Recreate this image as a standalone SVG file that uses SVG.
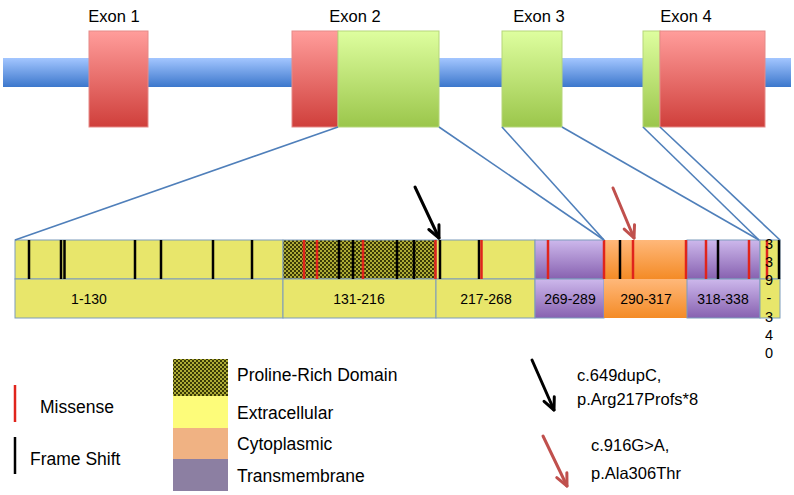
<svg xmlns="http://www.w3.org/2000/svg" width="794" height="495" viewBox="0 0 794 495">
<style>
text{font-family:"Liberation Sans",Arial,sans-serif;fill:#000}
.ex{font-size:16.5px}
.seg{font-size:14px;text-anchor:middle}
.lg{font-size:17.5px}
.mt{font-size:16.5px}
.vt{font-size:14.5px;text-anchor:middle}
.cell{stroke:#7d9cbc;stroke-width:1}
.ms{stroke:#e0241c;stroke-width:2.5}
.fs{stroke:#000;stroke-width:2.5}
.proj{stroke:#4f7fba;stroke-width:1.6;fill:none}
.exbox{stroke-width:1}
</style>
<defs>
<linearGradient id="gBlue" x1="0" y1="0" x2="0" y2="1"><stop offset="0" stop-color="#a3c6ff"/><stop offset="1" stop-color="#3c77cc"/></linearGradient>
<linearGradient id="gRed" x1="0" y1="0" x2="0" y2="1"><stop offset="0" stop-color="#ff9d9b"/><stop offset="1" stop-color="#cf3f3b"/></linearGradient>
<linearGradient id="gGreen" x1="0" y1="0" x2="0" y2="1"><stop offset="0" stop-color="#defe9f"/><stop offset="1" stop-color="#9bc64b"/></linearGradient>
<linearGradient id="gPurple" x1="0" y1="0" x2="0" y2="1"><stop offset="0" stop-color="#cdb8ec"/><stop offset="1" stop-color="#8761b0"/></linearGradient>
<linearGradient id="gOrange" x1="0" y1="0" x2="0" y2="1"><stop offset="0" stop-color="#ffb87a"/><stop offset="1" stop-color="#f48b26"/></linearGradient>
<pattern id="pPro" width="4" height="4" patternUnits="userSpaceOnUse">
<rect width="4" height="4" fill="#aeac36"/>
<rect width="2" height="2" fill="#3a3a06"/>
<rect x="2" y="2" width="2" height="2" fill="#3a3a06"/>
</pattern>
<marker id="headK" markerUnits="userSpaceOnUse" markerWidth="30" markerHeight="30" refX="0" refY="0" viewBox="-15 -15 30 30" orient="auto" overflow="visible">
<path d="M-12,-5.6 L0,0 L-12,5.6" fill="none" stroke="#000" stroke-width="3" stroke-linecap="round" stroke-linejoin="round"/>
</marker>
<marker id="headR" markerUnits="userSpaceOnUse" markerWidth="30" markerHeight="30" refX="0" refY="0" viewBox="-15 -15 30 30" orient="auto" overflow="visible">
<path d="M-12,-5.6 L0,0 L-12,5.6" fill="none" stroke="#c0504d" stroke-width="3" stroke-linecap="round" stroke-linejoin="round"/>
</marker>
</defs>
<rect width="794" height="495" fill="#fff"/>

<!-- gene -->
<g id="backbone"><rect x="3" y="58" width="788" height="29" fill="url(#gBlue)"/></g>
<g id="exon1">
<rect class="exbox" x="89" y="31" width="59" height="96" fill="url(#gRed)" stroke="#e58a88"/>
<text class="ex" x="114" y="22" text-anchor="middle">Exon 1</text>
</g>
<g id="exon2">
<rect class="exbox" x="292" y="31" width="46" height="96" fill="url(#gRed)" stroke="#e58a88"/>
<rect class="exbox" x="338" y="31" width="101" height="96" fill="url(#gGreen)" stroke="#b5d67a"/>
<text class="ex" x="355" y="22" text-anchor="middle">Exon 2</text>
</g>
<g id="exon3">
<rect class="exbox" x="502" y="31" width="60" height="96" fill="url(#gGreen)" stroke="#b5d67a"/>
<text class="ex" x="539" y="22" text-anchor="middle">Exon 3</text>
</g>
<g id="exon4">
<rect class="exbox" x="643" y="31" width="17" height="96" fill="url(#gGreen)" stroke="#b5d67a"/>
<rect class="exbox" x="660" y="31" width="105" height="96" fill="url(#gRed)" stroke="#e58a88"/>
<text class="ex" x="686" y="22" text-anchor="middle">Exon 4</text>
</g>

<!-- protein -->
<g id="seg1-130">
<rect class="cell" x="15" y="240" width="268" height="39" fill="#e8e66b"/>
<rect class="cell" x="15" y="279" width="268" height="39" fill="#e8e66b"/>
<text class="seg" x="89" y="304">1-130</text>
</g>
<g id="seg131-216">
<rect class="cell" x="283" y="240" width="153" height="39" fill="url(#pPro)"/>
<rect class="cell" x="283" y="279" width="153" height="39" fill="#e8e66b"/>
<text class="seg" x="359" y="304">131-216</text>
</g>
<g id="seg217-268">
<rect class="cell" x="436" y="240" width="99" height="39" fill="#e8e66b"/>
<rect class="cell" x="436" y="279" width="99" height="39" fill="#e8e66b"/>
<text class="seg" x="486" y="304">217-268</text>
</g>
<g id="seg269-289">
<rect class="cell" x="535" y="240" width="69" height="39" fill="url(#gPurple)"/>
<rect class="cell" x="535" y="279" width="69" height="39" fill="url(#gPurple)"/>
<text class="seg" x="570" y="304">269-289</text>
</g>
<g id="seg290-317">
<rect x="604" y="240" width="83" height="39" fill="url(#gOrange)"/>
<rect x="604" y="279" width="83" height="39" fill="url(#gOrange)"/>
<text class="seg" x="646" y="304">290-317</text>
</g>
<g id="seg318-338">
<rect class="cell" x="687" y="240" width="73" height="39" fill="url(#gPurple)"/>
<rect class="cell" x="687" y="279" width="73" height="39" fill="url(#gPurple)"/>
<text class="seg" x="723" y="304">318-338</text>
</g>
<g id="seg339-340">
<rect class="cell" x="760" y="240" width="20" height="39" fill="#e8e66b"/>
<rect class="cell" x="760" y="279" width="20" height="39" fill="#e8e66b"/>
</g>

<!-- mutations -->
<g id="mutations">
<line class="fs" x1="29" y1="240" x2="29" y2="279"/>
<line class="fs" x1="61" y1="240" x2="61" y2="279"/>
<line class="fs" x1="64.5" y1="240" x2="64.5" y2="279"/>
<line class="fs" x1="135" y1="240" x2="135" y2="279"/>
<line class="fs" x1="161" y1="240" x2="161" y2="279"/>
<line class="fs" x1="213" y1="240" x2="213" y2="279"/>
<line class="fs" x1="252" y1="240" x2="252" y2="279"/>
<line class="ms" x1="304" y1="240" x2="304" y2="279"/>
<line class="ms" x1="317" y1="240" x2="317" y2="279"/>
<line class="fs" x1="339" y1="240" x2="339" y2="279"/>
<line class="fs" x1="353" y1="240" x2="353" y2="279"/>
<line class="ms" x1="363" y1="240" x2="363" y2="279"/>
<line class="fs" x1="397" y1="240" x2="397" y2="279"/>
<line class="fs" x1="414" y1="240" x2="414" y2="279"/>
<line class="ms" x1="435.5" y1="240" x2="435.5" y2="279"/>
<line class="fs" x1="440" y1="240" x2="440" y2="279"/>
<line class="fs" x1="479" y1="240" x2="479" y2="279"/>
<line class="ms" x1="481.5" y1="240" x2="481.5" y2="279"/>
<line class="ms" x1="548" y1="240" x2="548" y2="279"/>
<line class="ms" x1="604" y1="240" x2="604" y2="279"/>
<line class="fs" x1="620" y1="240" x2="620" y2="279"/>
<line class="ms" x1="633" y1="240" x2="633" y2="279"/>
<line class="ms" x1="686" y1="240" x2="686" y2="279"/>
<line class="ms" x1="706" y1="240" x2="706" y2="279"/>
<line class="fs" x1="718" y1="240" x2="718" y2="279"/>
<line class="ms" x1="749" y1="240" x2="749" y2="279"/>
<line class="ms" x1="767" y1="240" x2="767" y2="279"/>
<line class="fs" x1="779" y1="240" x2="779" y2="279"/>
</g>
<text class="vt" x="769"><tspan x="769" y="249">3</tspan><tspan x="769" y="267">3</tspan><tspan x="769" y="285">9</tspan><tspan x="769" y="303">-</tspan><tspan x="769" y="322">3</tspan><tspan x="769" y="340">4</tspan><tspan x="769" y="358">0</tspan></text>

<!-- connectors -->
<g id="connectors">
<line class="proj" x1="338" y1="127" x2="15" y2="240"/>
<line class="proj" x1="439" y1="127" x2="604" y2="240"/>
<line class="proj" x1="502" y1="127" x2="604" y2="240"/>
<line class="proj" x1="562" y1="127" x2="759" y2="240"/>
<line class="proj" x1="643" y1="127" x2="759" y2="240"/>
<line class="proj" x1="660" y1="127" x2="780" y2="240"/>
<line x1="415" y1="187" x2="439" y2="238" stroke="#000" stroke-width="3" stroke-linecap="round" marker-end="url(#headK)"/>
<line x1="613" y1="188" x2="634" y2="238" stroke="#c0504d" stroke-width="3" stroke-linecap="round" marker-end="url(#headR)"/>
</g>

<!-- legend -->
<g id="legend-missense">
<line class="ms" x1="15" y1="385" x2="15" y2="422"/>
<text class="lg" x="40" y="413">Missense</text>
</g>
<g id="legend-frameshift">
<line class="fs" x1="15" y1="437" x2="15" y2="474"/>
<text class="lg" x="30" y="465">Frame Shift</text>
</g>
<g id="legend-proline">
<rect x="173" y="359" width="55" height="37" fill="url(#pPro)"/>
<text class="lg" x="237" y="381">Proline-Rich Domain</text>
</g>
<g id="legend-extracellular">
<rect x="173" y="396" width="55" height="32" fill="#fdfc7a"/>
<text class="lg" x="237" y="419">Extracellular</text>
</g>
<g id="legend-cytoplasmic">
<rect x="173" y="428" width="55" height="31" fill="#f0b283"/>
<text class="lg" x="237" y="450">Cytoplasmic</text>
</g>
<g id="legend-transmembrane">
<rect x="173" y="459" width="55" height="32" fill="#8c7fa2"/>
<text class="lg" x="237" y="482">Transmembrane</text>
</g>
<g id="legend-mut1">
<line x1="532" y1="360" x2="554" y2="410" stroke="#000" stroke-width="3" stroke-linecap="round" marker-end="url(#headK)"/>
<text class="mt" x="577" y="381">c.649dupC,</text>
<text class="mt" x="577" y="405">p.Arg217Profs*8</text>
</g>
<g id="legend-mut2">
<line x1="543" y1="436" x2="567" y2="486" stroke="#c0504d" stroke-width="3" stroke-linecap="round" marker-end="url(#headR)"/>
<text class="mt" x="591" y="451">c.916G&gt;A,</text>
<text class="mt" x="591" y="479">p.Ala306Thr</text>
</g>
</svg>
